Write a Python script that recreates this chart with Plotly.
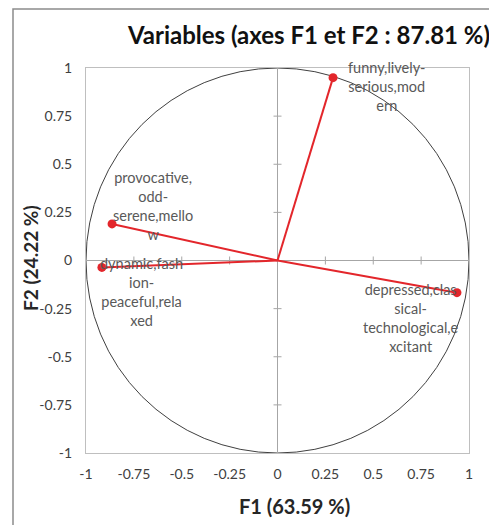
import plotly.graph_objects as go

# Data
variables = [
    "funny,lively-<br>serious,mod<br>ern",
    "provocative,<br>odd-<br>serene,mello<br>w",
    "dynamic,fash<br>ion-<br>peaceful,rela<br>xed",
    "depressed,clas<br>sical-<br>technological,e<br>xcitant",
]
f1 = [0.29, -0.864, -0.917, 0.937]
f2 = [0.95, 0.19, -0.036, -0.167]
tick_vals = [-1, -0.75, -0.5, -0.25, 0, 0.25, 0.5, 0.75, 1]
tick_text = ["-1", "-0.75", "-0.5", "-0.25", "0", "0.25", "0.5", "0.75", "1"]
title_text = "Variables (axes F1 et F2 : 87.81 %)"
x_title = "F1 (63.59 %)"
y_title = "F2 (24.22 %)"

# label offsets (pixels) – style
label_shift = [(54, -9), (41, 18), (40, -25), (-46, -25)]

RED = "#e3262b"
FONT = "Lato, 'Open Sans', sans-serif"

OFF = 8  # page body margin
W, H = 497 - OFF, 525 - OFF
# plot area in page pixels: x 86..469, y 68..453
L = 86 - OFF
T = 68 - OFF
pw, ph = 383, 385
R = W - L - pw
B = H - T - ph


def px_x(page_x):
    return (page_x - OFF - L) / pw


def px_y(page_y):
    return (T + ph - (page_y - OFF)) / ph


fig = go.Figure()

for xi, yi in zip(f1, f2):
    fig.add_trace(go.Scatter(
        x=[0, xi], y=[0, yi], mode="lines",
        line=dict(color=RED, width=2), hoverinfo="skip", showlegend=False))

fig.add_trace(go.Scatter(
    x=f1, y=f2, mode="markers",
    marker=dict(color=RED, size=9), showlegend=False))

for name, xi, yi, (dx, dy) in zip(variables, f1, f2, label_shift):
    fig.add_annotation(x=xi, y=yi, text=name, showarrow=False,
                       xshift=dx, yshift=dy, align="center",
                       font=dict(family=FONT, size=14.5, color="#595959"))

# unit circle
fig.add_shape(type="circle", xref="x", yref="y", x0=-1, y0=-1, x1=1, y1=1,
              line=dict(color="#404040", width=1), layer="below")

# small cross ticks on zero lines
for t in tick_vals:
    if t == 0 or abs(t) == 1:
        continue
    fig.add_shape(type="line", xref="x", yref="y", ysizemode="pixel",
                  x0=t, x1=t, yanchor=0, y0=-4, y1=4,
                  line=dict(color="#a6a6a6", width=1), layer="below")
    fig.add_shape(type="line", xref="x", yref="y", xsizemode="pixel",
                  y0=t, y1=t, xanchor=0, x0=-4, x1=4,
                  line=dict(color="#a6a6a6", width=1), layer="below")

# outer chart frame
fig.add_shape(type="rect", xref="paper", yref="paper",
              x0=px_x(13), x1=px_x(495),
              y0=px_y(545), y1=px_y(OFF + 1),
              line=dict(color="#8c8c8c", width=1.5))

axis_common = dict(
    range=[-1, 1], tickvals=tick_vals, ticktext=tick_text,
    showgrid=False, zeroline=True, zerolinecolor="#a6a6a6", zerolinewidth=1,
    showline=True, mirror=True, linecolor="#bfbfbf", linewidth=1,
    ticks="", tickfont=dict(family=FONT, size=14, color="#404040"),
    fixedrange=True,
)

fig.update_layout(
    width=W, height=H,
    margin=dict(l=L, r=R, t=T, b=B),
    paper_bgcolor="white", plot_bgcolor="white",
    xaxis=dict(**axis_common, ticklabelstandoff=8),
    yaxis=dict(**axis_common, ticklabelstandoff=10),
    title=dict(text="<b>" + title_text + "</b>", x=px_x(309), xref="paper",
               xanchor="center", y=1 - (36 - OFF) / H, yref="container",
               yanchor="middle",
               font=dict(family=FONT, size=24, color="#111111")),
    showlegend=False,
)

fig.add_annotation(text="<b>" + x_title + "</b>", xref="paper", yref="paper",
                   x=px_x(294), y=px_y(506), showarrow=False,
                   xanchor="center", yanchor="middle",
                   font=dict(family=FONT, size=20, color="#262626"))
fig.add_annotation(text="<b>" + y_title + "</b>", xref="paper", yref="paper",
                   x=px_x(30), y=px_y(258), showarrow=False,
                   textangle=-90, xanchor="center", yanchor="middle",
                   font=dict(family=FONT, size=19, color="#262626"))

fig.write_html("out.html")
